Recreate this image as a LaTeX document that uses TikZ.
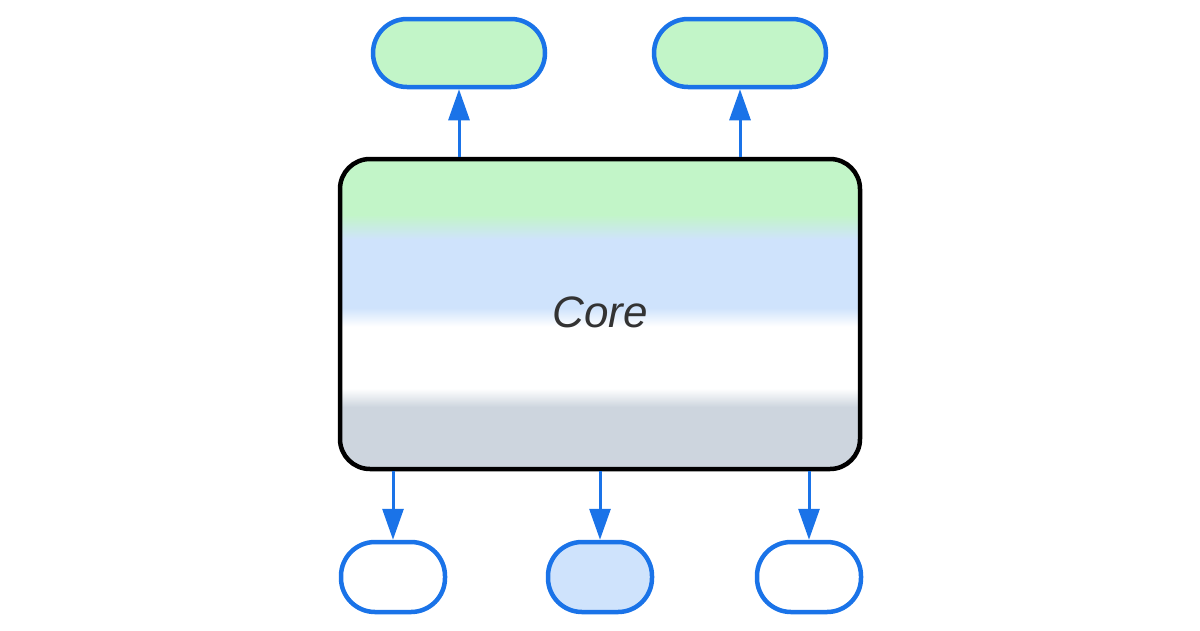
\documentclass[tikz,border=0pt]{standalone}
\usepackage{fontspec}
\setmainfont{Liberation Sans}
\usetikzlibrary{arrows.meta}
\definecolor{edgeblue}{HTML}{1A73E8}
\definecolor{fillgreen}{HTML}{C2F5C8}
\definecolor{fillblue}{HTML}{CFE3FC}
\definecolor{fillgray}{HTML}{CDD5DE}
\definecolor{txt}{HTML}{333333}
\pgfdeclareverticalshading{coreshade}{100bp}{color(0bp)=(fillgray); color(35bp)=(fillgray); color(38bp)=(white); color(48bp)=(white); color(51bp)=(fillblue); color(62bp)=(fillblue); color(66bp)=(fillgreen); color(100bp)=(fillgreen)}
\tikzset{
  corebox/.style={draw=black, line width=4.5pt, rounded corners=30pt, shading=coreshade,
    minimum width=520pt, minimum height=310pt, inner sep=0pt,
    font=\fontsize{44pt}{50pt}\selectfont\itshape, text=txt},
  topbox/.style={draw=edgeblue, line width=4.5pt, fill=fillgreen, rounded corners=34pt,
    minimum width=172pt, minimum height=68pt, inner sep=0pt},
  botbox/.style={draw=edgeblue, line width=4.5pt, rounded corners=34pt,
    minimum width=104pt, minimum height=70pt, inner sep=0pt},
  link/.style={draw=edgeblue, line width=3pt, -{Triangle[length=31pt,width=21pt]}}
}
\begin{document}
\begin{tikzpicture}[x=1pt,y=-1pt]
\useasboundingbox (0,0) rectangle (1200,630);
\node[corebox] (core) at (600,314) {\raisebox{4pt}{Core}};
\node[topbox] (tl) at (459,53) {};
\node[topbox] (tr) at (740,53) {};
\node[botbox, fill=white] (bl) at (393,577) {};
\node[botbox, fill=fillblue] (bm) at (600,577) {};
\node[botbox, fill=white] (br) at (809,577) {};
\draw[link] (core.north -| tl.south) -- (tl.south);
\draw[link] (core.north -| tr.south) -- (tr.south);
\draw[link] (core.south -| bl.north) -- (bl.north);
\draw[link] (core.south -| bm.north) -- (bm.north);
\draw[link] (core.south -| br.north) -- (br.north);
\end{tikzpicture}
\end{document}
